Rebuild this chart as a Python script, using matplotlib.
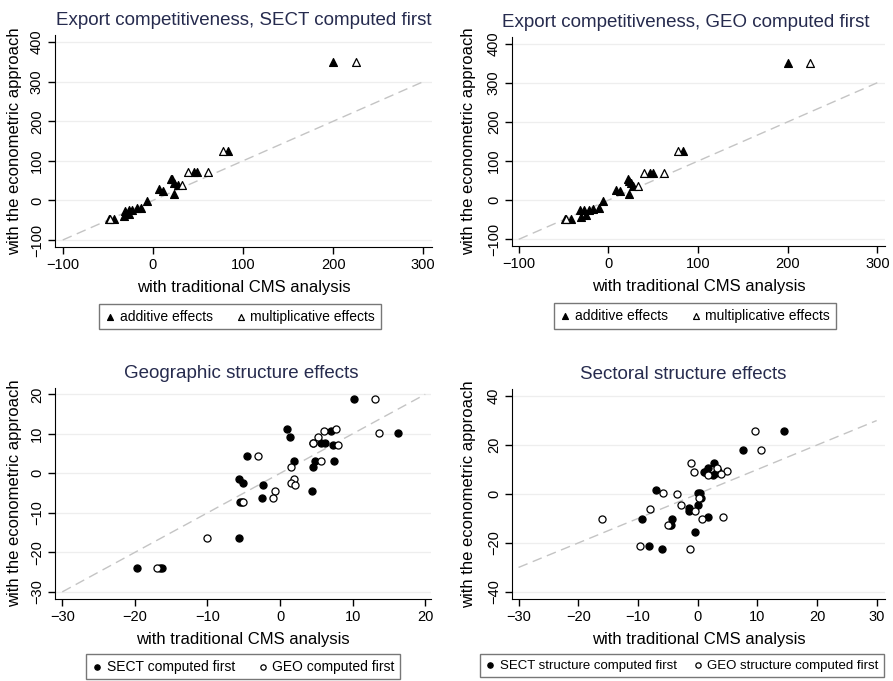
import matplotlib
matplotlib.use("Agg")
import matplotlib.pyplot as plt

plt.rcParams["font.family"] = ["Liberation Sans", "DejaVu Sans"]

# Export competitiveness, SECT computed first
sect_add_x = [200, 83, 46, 49, 20, 21.5, 23, 28, 7, 11, 23, -7, -13, -18, -23, -27, -31, -27, -32, -43, -49]
sect_add_y = [350, 125, 71, 71, 55, 53, 45, 38, 28, 24, 17, -1, -18, -20, -23, -25, -27, -35, -40, -48, -48]
sect_mult_x = [225, 78, 39, 61, 32, -48]
sect_mult_y = [350, 125, 71, 71, 38, -48]

# Export competitiveness, GEO computed first
geo_add_x = [200, 83, 47, 50, 21.5, 23, 25, 28, 8, 13, 23.5, -6, -11, -17, -22, -27, -31.5, -25, -31, -42, -48]
geo_add_y = [351, 125, 70, 70, 55, 50, 43, 36, 26, 23, 16, -2, -19, -22, -25, -26, -26, -37, -42, -48, -48]
geo_mult_x = [225, 78, 40, 62, 33, -47]
geo_mult_y = [351, 125, 70, 70, 36, -48]

# Geographic structure effects
geog_sect_x = [10.2, 16.2, 0.9, 1.4, 7.0, 4.5, 5.6, 6.2, 7.3, -4.6, 1.9, 4.8, 7.4, 4.5,
               -5.7, -5.1, -2.4, -2.5, 4.4, -5.5, -5.2, -5.7, -19.7, -16.5, -16.3]
geog_sect_y = [18.9, 10.2, 11.1, 9.3, 10.7, 7.8, 7.8, 7.8, 7.3, 4.3, 3.1, 3.0, 3.2, 1.5,
               -1.5, -2.5, -3.0, -6.3, -4.5, -7.3, -7.3, -16.4, -23.9, -23.9, -23.9]
geog_geo_x = [13.1, 13.6, 7.7, 6.1, 5.2, 4.5, 8.0, -3.0, 5.7, 1.5, 1.9, 1.5, 2.0, -0.7, -0.9, -5.1, -10.1, -17.0]
geog_geo_y = [18.9, 10.2, 11.1, 10.7, 9.3, 7.8, 7.3, 4.3, 3.0, 1.5, -1.5, -2.5, -3.0, -4.5, -6.3, -7.3, -16.4, -23.9]

# Sectoral structure effects
sectr_sect_x = [14.5, 7.6, 2.7, 1.7, 1.0, 1.2, 3.4, 3.0, 2.6, -7.0, 0.1, 0.4, 0.6, 0.0, -1.4, -1.4,
                1.8, -4.3, -9.4, -4.4, -4.6, -0.5, -8.2, -5.9]
sectr_sect_y = [25.7, 18.1, 12.8, 10.7, 9.0, 9.0, 9.3, 8.6, 7.8, 1.6, 0.4, 0.4, -1.6, -4.6, -5.7, -6.8,
                -9.3, -10.1, -10.1, -12.7, -12.7, -15.5, -21.1, -22.6]
sectr_geo_x = [9.7, 10.7, -1.1, 3.2, -0.6, 5.0, 4.0, 1.7, -5.8, -3.4, 0.3, -2.7, -0.5, 4.3, 0.8,
               -16.1, -5.0, -7.9, -1.3, -9.7]
sectr_geo_y = [25.7, 18.1, 12.8, 10.7, 9.0, 9.3, 8.3, 7.6, 0.4, 0.2, -1.6, -4.6, -7.1, -9.3, -10.1,
               -10.1, -12.7, -6.0, -22.6, -21.1]

TITLE_COLOR = "#262b4e"


def px_axes(fig, left, top, right, bottom):
    W, H = 893, 681
    return fig.add_axes([left / W, 1 - bottom / H, (right - left) / W, (bottom - top) / H])


def style(ax, title, title_x, ylab_x, xlim, ylim, ticks_x, ticks_y, line):
    ax.set_xlim(*xlim)
    ax.set_ylim(*ylim)
    ax.set_xticks(ticks_x)
    ax.set_yticks(ticks_y)
    ax.set_xticklabels([str(t).replace("-", "\u2212") for t in ticks_x])
    ax.set_yticklabels([str(t).replace("-", "\u2212") for t in ticks_y], va="center")
    for t in ticks_y:
        ax.axhline(t, color="#eeeeee", lw=0.9, zorder=0)
    ax.plot(line, line, ls=(0, (7, 4)), color="#c4c4c4", lw=1.0, zorder=1)
    for s in ("top", "right"):
        ax.spines[s].set_visible(False)
    ax.tick_params(direction="out", length=5, width=1, labelsize=10.5, pad=3)
    ax.tick_params(axis="y", labelrotation=90)
    ax.set_title(title, color=TITLE_COLOR, fontsize=13.5, pad=7, x=title_x)
    ax.set_xlabel("with traditional CMS analysis", fontsize=12, labelpad=6)
    ax.set_ylabel("with the econometric approach", fontsize=12)
    ax.yaxis.set_label_coords(ylab_x, 0.5)


def add_legend(ax, labels, x, y, size=10, colsp=1.6):
    leg = ax.legend(labels=labels, loc="upper center", bbox_to_anchor=(x, y), ncol=2,
                    frameon=True, fancybox=False, edgecolor="#555555", fontsize=size,
                    handletextpad=0.3, columnspacing=colsp, borderpad=0.4, markerscale=0.75,
                    handlelength=0.8, borderaxespad=0)
    leg.get_frame().set_linewidth(1.0)


fig = plt.figure(figsize=(8.93, 6.81), dpi=100)

tri = dict(marker="^", s=32, linewidths=0.9, zorder=3)
circ = dict(marker="o", s=26, linewidths=0.9, zorder=3)

ax1 = px_axes(fig, 55, 35, 432, 247)
ax1.scatter(sect_add_x, sect_add_y, c="black", edgecolors="black", **tri)
ax1.scatter(sect_mult_x, sect_mult_y, facecolors="white", edgecolors="black", **tri)
style(ax1, "Export competitiveness, SECT computed first", 0.5, -0.088, (-108.6, 309.7), (-117.7, 418),
      [-100, 0, 100, 200, 300], [-100, 0, 100, 200, 300, 400], [-100, 300])
add_legend(ax1, ["additive effects", "multiplicative effects"], 0.49, -0.27)

ax2 = px_axes(fig, 512, 37, 885, 246)
ax2.scatter(geo_add_x, geo_add_y, c="black", edgecolors="black", **tri)
ax2.scatter(geo_mult_x, geo_mult_y, facecolors="white", edgecolors="black", **tri)
style(ax2, "Export competitiveness, GEO computed first", 0.466, -0.097, (-107.5, 308.6), (-117, 416.8),
      [-100, 0, 100, 200, 300], [-100, 0, 100, 200, 300, 400], [-100, 300])
add_legend(ax2, ["additive effects", "multiplicative effects"], 0.49, -0.275)

ax3 = px_axes(fig, 55, 388, 431, 599)
ax3.scatter(geog_sect_x, geog_sect_y, c="black", edgecolors="black", **circ)
ax3.scatter(geog_geo_x, geog_geo_y, facecolors="white", edgecolors="black", **circ)
style(ax3, "Geographic structure effects", 0.495, -0.088, (-31.0, 20.8), (-31.8, 21.6),
      [-30, -20, -10, 0, 10, 20], [-30, -20, -10, 0, 10, 20], [-30, 20])
add_legend(ax3, ["SECT computed first", "GEO computed first"], 0.5, -0.262)

ax4 = px_axes(fig, 512, 389, 885, 599)
ax4.scatter(sectr_sect_x, sectr_sect_y, c="black", edgecolors="black", **circ)
ax4.scatter(sectr_geo_x, sectr_geo_y, facecolors="white", edgecolors="black", **circ)
style(ax4, "Sectoral structure effects", 0.46, -0.097, (-31.1, 31.4), (-42.9, 42.9),
      [-30, -20, -10, 0, 10, 20, 30], [-40, -20, 0, 20, 40], [-30, 30])
add_legend(ax4, ["SECT structure computed first", "GEO structure computed first"], 0.455, -0.262,
           size=9.5, colsp=1.2)

fig.savefig("out.png", dpi=100, facecolor="white")
